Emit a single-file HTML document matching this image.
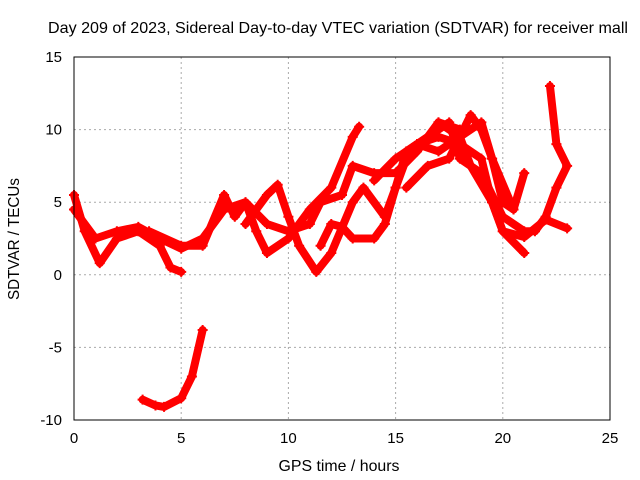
<!DOCTYPE html>
<html><head><meta charset="utf-8"><style>
body{margin:0;background:#fff}
svg{display:block;font-family:"Liberation Sans",sans-serif}
</style></head><body>
<svg id="chart" width="640" height="480">
<text x="338" y="33" font-size="16" text-anchor="middle" textLength="580" lengthAdjust="spacingAndGlyphs">Day 209 of 2023, Sidereal Day-to-day VTEC variation (SDTVAR) for receiver mall</text>
<text x="339" y="471" font-size="16" text-anchor="middle" textLength="121" lengthAdjust="spacingAndGlyphs">GPS time / hours</text>
<text x="19" y="239" font-size="16" text-anchor="middle" textLength="122" lengthAdjust="spacingAndGlyphs" transform="rotate(-90 19 239)">SDTVAR / TECUs</text>
<g id="grid"></g><g id="series"></g>
<rect x="74" y="57" width="536" height="363" fill="none" stroke="#000" stroke-width="1"/>
</svg>
<script>
const xTicks=[0,5,10,15,20,25];
const yTicks=[-10,-5,0,5,10,15];
const trackA=[[0,4.5],[1,2.5],[2,3],[3,3.3],[4,2.5],[5,1.8],[6,2.5],[7,4.5],[8,5],[8.5,3],[9,1.5],[10,2.5],[11,4.5],[12,6],[13,9.5],[13.3,10.2]];
const trackB=[[0,5.5],[0.5,3],[1.2,0.8],[2,2.5],[3,3],[4,2],[4.5,0.5],[5,0.2]];
const trackC=[[3.5,3],[5,2],[6,2],[7,5.5],[7.5,4],[8,5],[9,3.5],[10,3],[11,3.5],[11.5,5],[12.5,5.5],[13,7.5],[14,7],[15,7],[16,8.5],[17,10.5],[18,10]];
const trackD=[[8,3.5],[9,5.5],[9.5,6.2],[10,4],[10.5,2],[11.3,0.2],[12,1.5],[13,5],[13.5,6],[14.5,4],[15,6],[15.5,8.5],[16.5,9.5],[17.5,10.5],[18,8],[19,7],[20,4],[21,3],[21.5,3],[22,4],[22.5,6],[23,7.5],[22.5,9],[22.2,13]];
const trackE=[[11.5,2],[12,3.5],[12.5,3.3],[13,2.5],[14,2.5],[14.5,3.5],[15,6],[15.5,8],[16,9],[17,9.5],[18,9],[19,8],[19.5,5],[20,3],[21,1.5]];
const trackF=[[15.5,6],[16.5,7.5],[17.5,8],[18.5,11],[19,10],[19.5,8],[20,5],[20.5,4.5],[21,7]];
const trackG=[[17,10.5],[18,9.5],[18.5,7.5],[19.5,5],[20,3],[21,2.6],[22,3.8],[23,3.2]];
const trackH=[[14,6.5],[15,8],[16,9],[17,8.5],[18,9.5],[19,10.5],[19.5,8],[20.5,4.5]];
const trackI=[[3.2,-8.6],[3.8,-9],[4.2,-9.1],[5,-8.5],[5.5,-7],[6,-3.8]];
const tracks=[trackA,trackB,trackC,trackD,trackE,trackF,trackG,trackH,trackI];
const NS="http://www.w3.org/2000/svg";
const X=v=>74+v*536/25, Y=v=>57+(15-v)*363/25;
const grid=document.getElementById('grid'), ser=document.getElementById('series'), svg=document.getElementById('chart');
function mk(t,a,p){const e=document.createElementNS(NS,t);for(const k in a)e.setAttribute(k,a[k]);(p||grid).appendChild(e);return e;}
xTicks.forEach(t=>{
 if(t>0&&t<25){const g=mk('line',{x1:X(t),x2:X(t),y1:57,y2:420,stroke:'#aaa','stroke-dasharray':'2,3'});
 
 }
 const l=mk('text',{x:X(t),y:443,'font-size':15,'text-anchor':'middle'},svg);l.textContent=t;
 
 
});
yTicks.forEach(t=>{
 if(t>-10&&t<15){const g=mk('line',{x1:74,x2:610,y1:Y(t),y2:Y(t),stroke:'#aaa','stroke-dasharray':'2,3'});
 
 }
 const l=mk('text',{x:62,y:Y(t)+5,'font-size':15,'text-anchor':'end'},svg);l.textContent=t;
 
 
});
tracks.forEach((tr,i)=>{
 const p=mk('polyline',{points:tr.map(d=>X(d[0])+','+Y(d[1])).join(' '),fill:'none',stroke:'#f00','stroke-width':8,'stroke-linejoin':'round','stroke-linecap':'round'},ser);
 
 
 tr.forEach(d=>{const m=mk('path',{d:`M${X(d[0])-5},${Y(d[1])}h10M${X(d[0])},${Y(d[1])-5}v10`,stroke:'#f00','stroke-width':2},ser);
 
 });
});
</script>
</body></html>
